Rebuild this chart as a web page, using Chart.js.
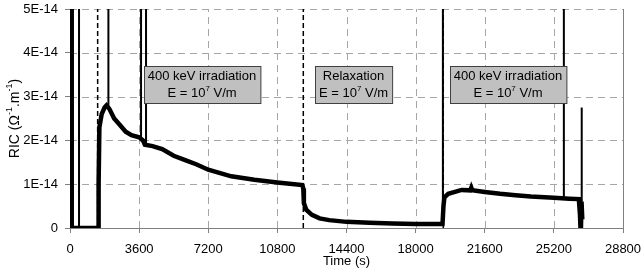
<!DOCTYPE html>
<html>
<head>
<meta charset="utf-8">
<script src="https://cdn.jsdelivr.net/npm/chart.js@4"></script>
<style>
    html, body { margin: 0; padding: 0; background: #fff; }
    #wrap { width: 642px; height: 272px; }
</style>
</head>
<body>
<div id="wrap"><canvas id="ricChart" width="642" height="272"></canvas></div>
<script>
// Measured RIC curve (time in s, RIC in ohm^-1.m^-1)
const mainTimes = [0, 30, 50, 70, 90, 1470, 1490, 1530, 1650, 1800, 1900, 2050, 2300, 2600, 2900, 3200, 3600, 3800, 3900, 4300, 4800, 5400, 6000, 6600, 7200, 8400, 9600, 10800, 12100, 12150, 12180, 12300, 12600, 13000, 13500, 14400, 15600, 16800, 18000, 19400, 19450, 19500, 19700, 20000, 20400, 20850, 20900, 20950, 21600, 22400, 23200, 24000, 25200, 26000, 26500, 26560, 26600, 26640, 26680];
const mainRic = [0, 6e-14, 0, 6e-14, 0, 0, 1.0e-14, 2.3e-14, 2.6e-14, 2.75e-14, 2.8e-14, 2.72e-14, 2.5e-14, 2.35e-14, 2.2e-14, 2.12e-14, 2.07e-14, 2.0e-14, 1.9e-14, 1.87e-14, 1.8e-14, 1.65e-14, 1.55e-14, 1.45e-14, 1.33e-14, 1.18e-14, 1.1e-14, 1.04e-14, 0.98e-14, 0.9e-14, 0.57e-14, 0.42e-14, 0.3e-14, 0.22e-14, 0.18e-14, 0.14e-14, 0.12e-14, 0.1e-14, 0.09e-14, 0.09e-14, 0.5e-14, 0.7e-14, 0.78e-14, 0.82e-14, 0.87e-14, 0.86e-14, 0.92e-14, 0.86e-14, 0.82e-14, 0.78e-14, 0.75e-14, 0.72e-14, 0.69e-14, 0.67e-14, 0.66e-14, 0.3e-14, -0.2e-14, 0.6e-14, 0.2e-14];

// Short spikes (time, start value, end value)
const spikeTimes = [470, 2000, 3700, 3960, 19420, 25720, 26650];
const spikeFrom = [0, 2.75e-14, 2.07e-14, 1.88e-14, 0.09e-14, 0.68e-14, -0.2e-14];
const spikeTo = [6e-14, 6e-14, 6e-14, 6e-14, 6e-14, 6e-14, 2.75e-14];

// Phase boundaries
const phaseTimes = [1440, 12150, 19440];

// Phase labels
const annotTimes = [6875, 14765, 22810];
const annotRic = 3.27e-14;
const annotLines = [
    ['400 keV irradiation', 'E = 10^{7} V/m'],
    ['Relaxation', 'E = 10^{7} V/m'],
    ['400 keV irradiation', 'E = 10^{7} V/m']
];

const yTitle = 'RIC (\u03A9^{-1}.m^{-1})';
const FONT = '"Liberation Sans", Arial, sans-serif';

// split text on ^{...} superscripts
function supParts(text) {
    const parts = [];
    const re = /\^\{(.*?)\}/g;
    let last = 0, m;
    while ((m = re.exec(text)) !== null) {
        if (m.index > last) parts.push({ t: text.slice(last, m.index), sup: false });
        parts.push({ t: m[1], sup: true });
        last = re.lastIndex;
    }
    if (last < text.length) parts.push({ t: text.slice(last), sup: false });
    return parts;
}

function measureSup(ctx, text, size) {
    let w = 0;
    supParts(text).forEach(p => {
        ctx.font = (p.sup ? Math.round(size * 0.65) : size) + 'px ' + FONT;
        w += ctx.measureText(p.t).width;
    });
    return w;
}

function drawSup(ctx, text, x, y, size) {
    let cx = x;
    ctx.textBaseline = 'middle';
    ctx.textAlign = 'left';
    supParts(text).forEach(p => {
        const s = p.sup ? Math.round(size * 0.65) : size;
        ctx.font = s + 'px ' + FONT;
        ctx.fillText(p.t, cx, p.sup ? y - size * 0.38 : y);
        cx += ctx.measureText(p.t).width;
    });
}

// dashed grid drawn under the data
const gridPlugin = {
    id: 'dashGrid',
    beforeDatasetsDraw(chart) {
        const ctx = chart.ctx;
        const area = chart.chartArea;
        ctx.save();
        ctx.strokeStyle = '#a6a6a6';
        ctx.lineWidth = 1;
        ctx.setLineDash([7, 5]);
        chart.scales.x.ticks.forEach(t => {
            const px = Math.round(chart.scales.x.getPixelForValue(t.value)) + 0.5;
            if (t.value === 0) return;
            ctx.beginPath();
            ctx.moveTo(px, area.bottom);
            ctx.lineTo(px, area.top);
            ctx.stroke();
        });
        chart.scales.y.ticks.forEach(t => {
            const py = Math.round(chart.scales.y.getPixelForValue(t.value)) + 0.5;
            if (t.value === 0) return;
            ctx.beginPath();
            ctx.moveTo(area.left, py);
            ctx.lineTo(area.right, py);
            ctx.stroke();
        });
        ctx.setLineDash([]);
        ctx.strokeStyle = '#808080';
        ctx.beginPath();
        ctx.moveTo(Math.round(area.right) + 0.5, area.top);
        ctx.lineTo(Math.round(area.right) + 0.5, area.bottom);
        ctx.stroke();
        ctx.restore();
    }
};

const decorPlugin = {
    id: 'decor',
    afterDatasetsDraw(chart) {
        const ctx = chart.ctx;
        const xs = chart.scales.x, ys = chart.scales.y;
        const area = chart.chartArea;
        ctx.save();

        // phase label boxes
        annotTimes.forEach((t, i) => {
            const lines = annotLines[i];
            const cx = xs.getPixelForValue(t);
            const cy = ys.getPixelForValue(annotRic);
            let w = 0;
            lines.forEach(l => { w = Math.max(w, measureSup(ctx, l, 13)); });
            w += 8;
            const h = 37;
            const left = Math.round(cx - w / 2) + 0.5, top = Math.round(cy - h / 2) + 0.5;
            ctx.fillStyle = '#c0c0c0';
            ctx.fillRect(left, top, w, h);
            ctx.strokeStyle = '#404040';
            ctx.lineWidth = 1;
            ctx.strokeRect(left, top, w, h);
            ctx.fillStyle = '#000';
            lines.forEach((l, j) => {
                const lw = measureSup(ctx, l, 13);
                drawSup(ctx, l, cx - lw / 2, top + 10 + j * 17, 13);
            });
        });

        // rotated y title
        ctx.fillStyle = '#000';
        ctx.translate(15, (area.top + area.bottom) / 2);
        ctx.rotate(-Math.PI / 2);
        const tw = measureSup(ctx, yTitle, 14);
        drawSup(ctx, yTitle, -tw / 2, 0, 14);
        ctx.restore();
    }
};

function buildDatasets() {
    const sets = [];
    sets.push({
        data: mainTimes.map((t, i) => ({ x: t, y: mainRic[i] })),
        borderColor: '#000',
        borderWidth: 4.5,
        pointRadius: 0,
        tension: 0
    });
    spikeTimes.forEach((t, i) => {
        sets.push({
            data: [{ x: t, y: spikeFrom[i] }, { x: t, y: spikeTo[i] }],
            borderColor: '#000',
            borderWidth: 2,
            pointRadius: 0
        });
    });
    phaseTimes.forEach(t => {
        sets.push({
            data: [{ x: t, y: 0 }, { x: t, y: 5e-14 }],
            borderColor: '#000',
            borderWidth: 1.5,
            borderDash: [5, 3],
            pointRadius: 0
        });
    });
    return sets;
}

document.addEventListener('DOMContentLoaded', () => {
    const ctx = document.getElementById('ricChart').getContext('2d');
    new Chart(ctx, {
        type: 'line',
        data: { datasets: buildDatasets() },
        plugins: [gridPlugin, decorPlugin],
        options: {
            responsive: false,
            animation: false,
            layout: { padding: { left: 0, top: 9, right: 19, bottom: 0 } },
            plugins: { legend: { display: false }, tooltip: { enabled: false } },
            scales: {
                x: {
                    type: 'linear',
                    min: 0,
                    max: 28800,
                    afterFit: s => { s.height = 44; s.paddingLeft = 0; s.paddingRight = 0; },
                    ticks: {
                        stepSize: 3600,
                        color: '#000',
                        padding: 9,
                        maxRotation: 0,
                        font: { family: FONT, size: 13 },
                        callback: v => String(v)
                    },
                    grid: { drawOnChartArea: false, tickLength: 5, tickColor: '#808080' },
                    border: { color: '#808080' },
                    title: {
                        display: true,
                        text: 'Time (s)',
                        color: '#000',
                        padding: { top: 0, bottom: 3 },
                        font: { family: FONT, size: 13 }
                    }
                },
                y: {
                    min: 0,
                    max: 5e-14,
                    afterFit: s => { s.width = 70; s.paddingTop = 0; s.paddingBottom = 0; },
                    ticks: {
                        stepSize: 1e-14,
                        color: '#000',
                        padding: 7,
                        font: { family: FONT, size: 13 },
                        callback: v => {
                            const n = Math.round(v * 1e14);
                            return n === 0 ? '0' : n + 'E-14';
                        }
                    },
                    grid: { drawOnChartArea: false, tickLength: 5, tickColor: '#808080' },
                    border: { color: '#808080' }
                }
            }
        }
    });
});
</script>
</body>
</html>
